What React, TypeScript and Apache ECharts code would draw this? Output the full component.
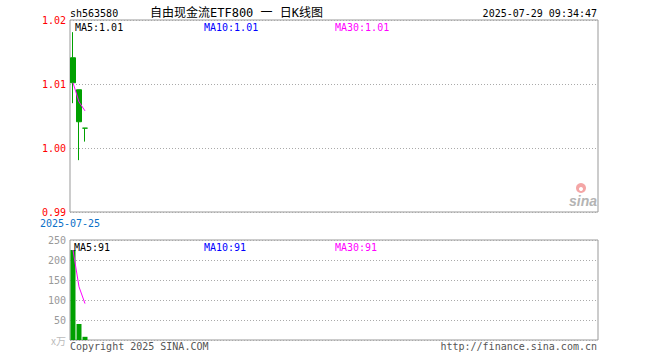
import React, { useEffect, useRef } from 'react';
import * as echarts from 'echarts';

const stockCode = 'sh563580';
const stockTitle = '自由现金流ETF800 一 日K线图';
const timestamp = '2025-07-29 09:34:47';
const dates = ['2025-07-25', '2025-07-28', '2025-07-29'];
const opens = [1.0141, 1.0091, 1.0031];
const closes = [1.0102, 1.0041, 1.0031];
const lows = [1.007, 0.9981, 1.001];
const highs = [1.0181, 1.0091, 1.0031];
const priceMA = [1.0102, 1.0072, 1.0058];
const volumes = [225, 40, 8];
const volumeMA = [225, 133, 91];
const priceMALabels = ['MA5:1.01', 'MA10:1.01', 'MA30:1.01'];
const volumeMALabels = ['MA5:91', 'MA10:91', 'MA30:91'];
const priceMin = 0.99;
const priceMax = 1.02;
const priceStep = 0.01;
const volMax = 250;
const volStep = 50;
const volUnit = 'x万';
const copyright = 'Copyright 2025 SINA.COM';
const siteUrl = 'http://finance.sina.com.cn';
const SLOTS = 88;

const MONO = "'DejaVu Sans Mono', monospace";
const GREEN = '#00a000';
const RED = '#ff0000';

function txt(text: string, x: number, y: number, fill: string, opts: any = {}) {
  const align = opts.align || 'left';
  return {
    type: 'text',
    x,
    y,
    silent: true,
    z: 100,
    style: {
      text,
      fill,
      font: opts.font || `10px ${MONO}`,
      textAlign: align,
      align,
      textVerticalAlign: 'middle',
      verticalAlign: 'middle',
    },
  };
}

export default function App() {
  const ref = useRef<HTMLDivElement>(null);
  useEffect(() => {
    if (!ref.current) return;
    const chart = echarts.init(ref.current, null, { renderer: 'svg' });
    const cats = [...dates, ...Array(SLOTS - dates.length).fill('')];
    const candleData = dates.map((_, i) => [opens[i], closes[i], lows[i], highs[i]]);
    const hiddenX = {
      type: 'category',
      data: cats,
      axisLine: { show: false },
      axisTick: { show: false },
      axisLabel: { show: false },
      splitLine: { show: false },
    };
    const splitLine = { show: true, lineStyle: { color: '#aaa', type: [1, 2], width: 1 } };
    chart.setOption({
      animation: false,
      grid: [
        { left: 70, top: 20, width: 528, height: 192, show: true, borderColor: '#999', borderWidth: 1, backgroundColor: 'transparent' },
        { left: 70, top: 240, width: 528, height: 100, show: true, borderColor: '#999', borderWidth: 1, backgroundColor: 'transparent' },
      ],
      xAxis: [
        { ...hiddenX, gridIndex: 0 },
        { ...hiddenX, gridIndex: 1 },
      ],
      yAxis: [
        {
          gridIndex: 0,
          type: 'value',
          min: priceMin,
          max: priceMax,
          interval: priceStep,
          axisLine: { show: false },
          axisTick: { show: false },
          axisLabel: { color: RED, fontSize: 10, fontFamily: MONO, margin: 4, formatter: (v: number) => v.toFixed(2) },
          splitLine,
        },
        {
          gridIndex: 1,
          type: 'value',
          min: 0,
          max: volMax,
          interval: volStep,
          axisLine: { show: false },
          axisTick: { show: false },
          axisLabel: { color: '#999', fontSize: 10, fontFamily: MONO, margin: 4, formatter: (v: number) => (v === 0 ? '' : String(v)) },
          splitLine,
        },
      ],
      series: [
        {
          type: 'candlestick',
          xAxisIndex: 0,
          yAxisIndex: 0,
          barWidth: 5,
          data: candleData,
          itemStyle: { color: RED, color0: GREEN, borderColor: RED, borderColor0: GREEN, borderWidth: 1 },
        },
        {
          type: 'line',
          xAxisIndex: 0,
          yAxisIndex: 0,
          data: priceMA,
          showSymbol: false,
          lineStyle: { color: '#ff00ff', width: 1 },
          z: 5,
        },
        {
          type: 'bar',
          xAxisIndex: 1,
          yAxisIndex: 1,
          barWidth: 5,
          data: volumes,
          itemStyle: { color: GREEN },
        },
        {
          type: 'line',
          xAxisIndex: 1,
          yAxisIndex: 1,
          data: volumeMA,
          showSymbol: false,
          lineStyle: { color: '#ff00ff', width: 1 },
          z: 5,
        },
      ],
      graphic: [
        txt(stockCode, 70, 13, '#000'),
        txt(stockTitle, 150, 13, '#000', { font: `12px 'DejaVu Sans Mono', 'Noto Sans CJK SC', sans-serif` }),
        txt(timestamp, 597, 13, '#000', { align: 'right' }),
        txt(priceMALabels[0], 75, 27, '#000'),
        txt(priceMALabels[1], 204, 27, '#0000ff'),
        txt(priceMALabels[2], 335, 27, '#ff00ff'),
        txt(volumeMALabels[0], 74, 247, '#000'),
        txt(volumeMALabels[1], 204, 247, '#0000ff'),
        txt(volumeMALabels[2], 335, 247, '#ff00ff'),
        txt(dates[0], 70, 223, '#0a70c8', { align: 'center' }),
        txt(volUnit, 66, 340, '#bbb', { align: 'right', font: `10px 'Noto Sans CJK SC', sans-serif` }),
        txt(copyright, 70, 346, '#555'),
        txt(siteUrl, 597, 346, '#555', { align: 'right' }),
        { type: 'circle', shape: { cx: 581, cy: 188, r: 5 }, style: { fill: '#f4a6a6' }, silent: true, z: 90 },
        { type: 'circle', shape: { cx: 581, cy: 189, r: 2 }, style: { fill: '#fff' }, silent: true, z: 91 },
        txt('sina', 597, 201, '#b4b4b4', { align: 'right', font: `italic bold 14px 'Liberation Sans', sans-serif` }),
      ],
    });
    return () => chart.dispose();
  }, []);
  return <div ref={ref} style={{ position: 'fixed', left: 0, top: 0, width: 660, height: 360, background: '#fff' }} />;
}
